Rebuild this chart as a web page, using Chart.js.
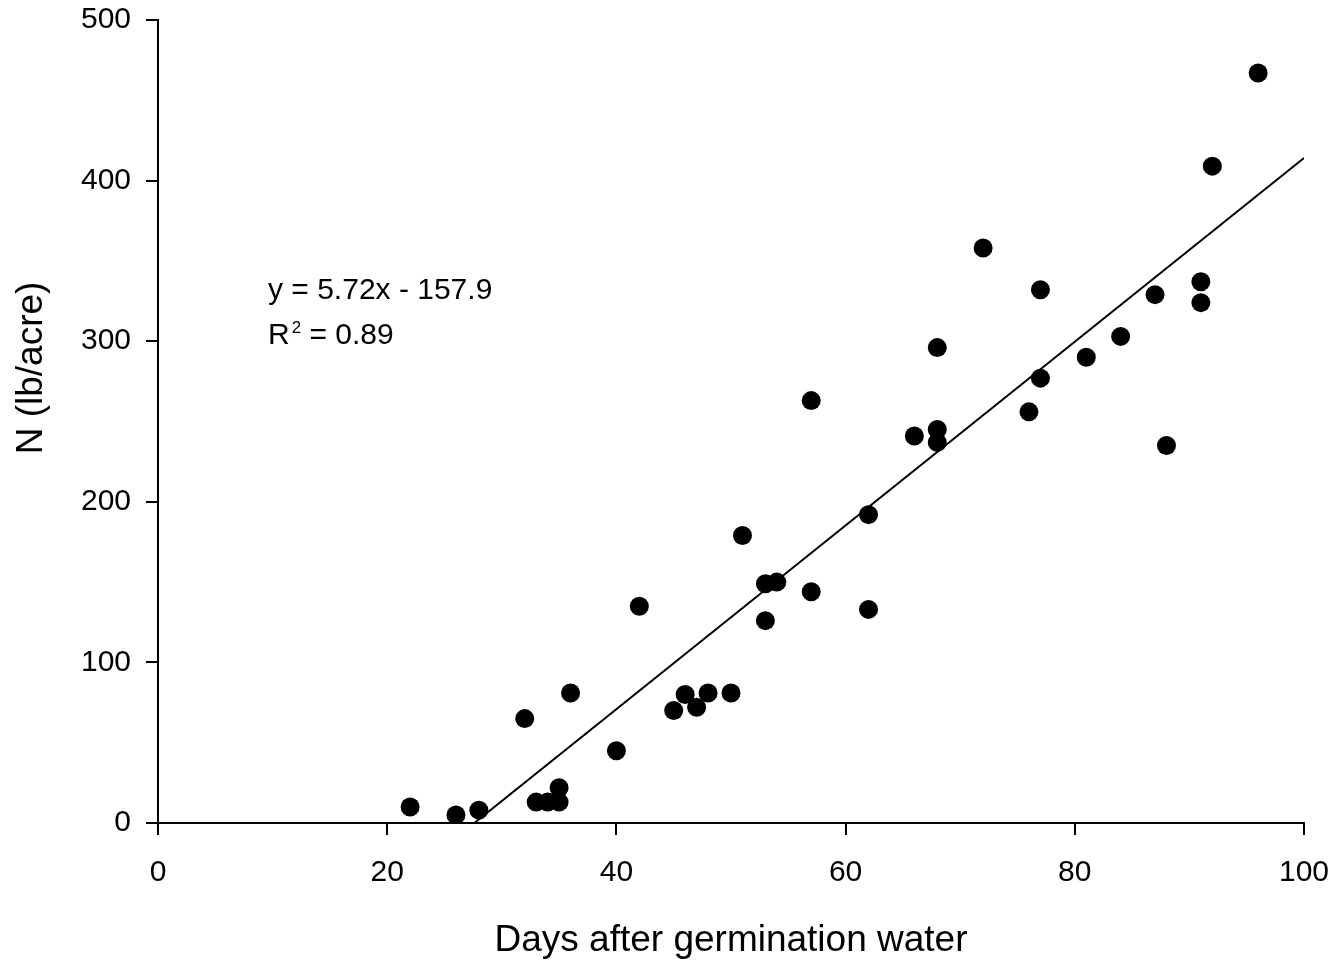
<!DOCTYPE html>
<html>
<head>
<meta charset="utf-8">
<script src="https://cdn.jsdelivr.net/npm/chart.js@4.4.0/dist/chart.umd.min.js"></script>
<style>
    html, body { margin: 0; padding: 0; background: #fff; }
    #wrap { width: 1336px; height: 963px; }
</style>
</head>
<body>
<div id="wrap"><canvas id="chart" width="1336" height="963"></canvas></div>
<script>
const days = [22, 26, 28, 32, 33, 34, 35, 35, 36, 40, 42, 45, 46, 47, 48, 50, 51, 53, 54, 53,
    57, 57, 62, 62, 66, 68, 68, 68, 72, 76, 77, 77, 81, 84, 87, 88, 91, 91, 92, 96];
const nitrogen = [10, 5, 8, 65, 13, 13, 13, 22, 81, 45, 135, 70, 80, 72, 81, 81, 179, 149, 150, 126,
    144, 263, 133, 192, 241, 245, 237, 296, 358, 256, 332, 277, 290, 303, 329, 235, 337, 324, 409, 467];

// regression shown on the chart
const slope = 5.72;
const intercept = -157.9;
const r2 = 0.89;

const xTicks = [0, 20, 40, 60, 80, 100];
const yTicks = [0, 100, 200, 300, 400, 500];

const FONT = "'Liberation Sans', Arial, sans-serif";

const points = days.map((d, i) => ({ x: d, y: nitrogen[i] }));
const xStart = -intercept / slope;
const fitLine = [{ x: xStart, y: 0 }, { x: 100, y: slope * 100 + intercept }];

// equation text + the y axis title (which sits above the axis middle)
const extraText = {
    id: 'extraText',
    afterDraw(chart) {
        const ctx = chart.ctx;
        ctx.save();
        ctx.fillStyle = '#000';
        ctx.textBaseline = 'alphabetic';
        ctx.textAlign = 'left';
        ctx.font = '30px ' + FONT;
        ctx.fillText('y = ' + slope.toFixed(2) + 'x - ' + Math.abs(intercept).toFixed(1), 268, 299);
        ctx.fillText('R', 268, 344);
        let x = 268 + ctx.measureText('R').width + 2;
        ctx.font = '17px ' + FONT;
        ctx.fillText('2', x, 333);
        x += ctx.measureText('2').width;
        ctx.font = '30px ' + FONT;
        ctx.fillText(' = ' + r2.toFixed(2), x, 344);

        ctx.translate(32, 368);
        ctx.rotate(-Math.PI / 2);
        ctx.textAlign = 'center';
        ctx.textBaseline = 'middle';
        ctx.font = '37px ' + FONT;
        ctx.fillText('N (lb/acre)', 0, 0);
        ctx.restore();
    }
};

new Chart(document.getElementById('chart'), {
    type: 'scatter',
    data: {
        datasets: [{
            data: points,
            backgroundColor: '#000',
            borderColor: '#000',
            pointRadius: 9.5,
            pointHoverRadius: 9.5,
            borderWidth: 0
        }, {
            type: 'line',
            data: fitLine,
            borderColor: '#000',
            borderWidth: 2,
            pointRadius: 0,
            fill: false
        }]
    },
    options: {
        responsive: false,
        animation: false,
        layout: { padding: { top: 20, right: 32, bottom: 0, left: 0 } },
        plugins: {
            legend: { display: false },
            tooltip: { enabled: false }
        },
        scales: {
            x: {
                type: 'linear',
                min: 0,
                max: 100,
                afterBuildTicks: s => { s.ticks = xTicks.map(v => ({ value: v })); },
                afterFit: s => { s.height = 140; s.paddingLeft = 0; s.paddingRight = 0; },
                border: { display: true, color: '#000', width: 2 },
                grid: { drawOnChartArea: false, drawTicks: true, tickLength: 12, color: '#000', lineWidth: 2 },
                ticks: { color: '#000', font: { family: FONT, size: 30 }, padding: 20, maxRotation: 0 },
                title: {
                    display: true,
                    text: 'Days after germination water',
                    color: '#000',
                    font: { family: FONT, size: 37 },
                    padding: { top: 15, bottom: 0 }
                }
            },
            y: {
                type: 'linear',
                min: 0,
                max: 500,
                afterBuildTicks: s => { s.ticks = yTicks.map(v => ({ value: v })); },
                afterFit: s => { s.width = 158; s.paddingTop = 0; s.paddingBottom = 0; },
                border: { display: true, color: '#000', width: 2 },
                grid: { drawOnChartArea: false, drawTicks: true, tickLength: 12, color: '#000', lineWidth: 2 },
                ticks: { color: '#000', font: { family: FONT, size: 30 }, padding: 15 },
                title: { display: false }
            }
        }
    },
    plugins: [extraText]
});
</script>
</body>
</html>
